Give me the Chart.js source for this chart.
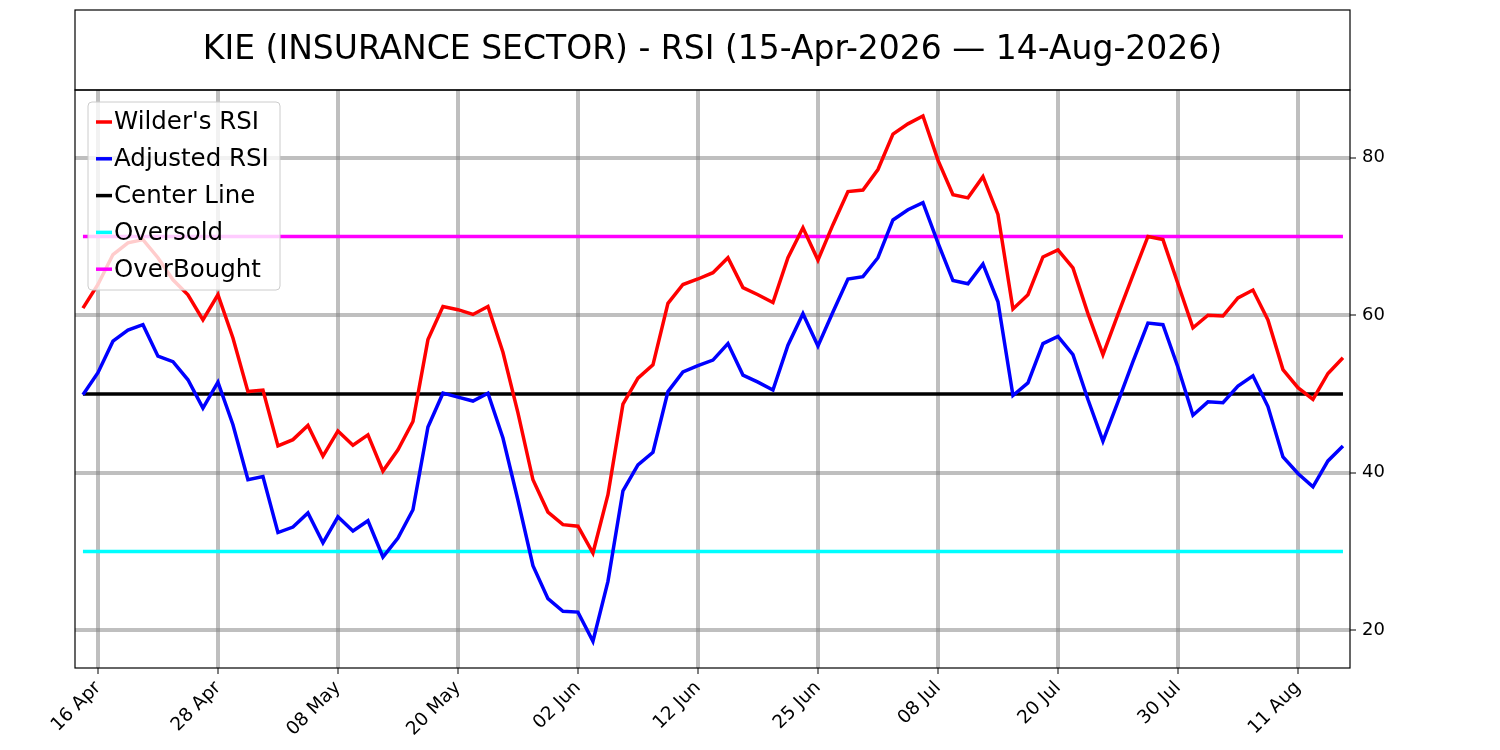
<!DOCTYPE html>
<html>
<head>
<meta charset="utf-8">
<script src="https://cdn.jsdelivr.net/npm/chart.js@4.4.0/dist/chart.umd.min.js"></script>
<style>
  body { margin: 0; background: #fff; }
  #wrap { width: 1500px; height: 750px; }
</style>
</head>
<body>
<div id="wrap"><canvas id="rsiChart" width="1500" height="750"></canvas></div>
<script>
// trading days 15-Apr-2026 .. 14-Aug-2026 (holidays removed), tick every 8th from index 1
const tickLabels = ['16 Apr', '28 Apr', '08 May', '20 May', '02 Jun', '12 Jun', '25 Jun', '08 Jul', '20 Jul', '30 Jul', '11 Aug'];
const tickIndex = [1, 9, 17, 25, 33, 41, 49, 57, 65, 73, 81];

const wilderRsi = [60.9, 63.9, 67.7, 69.2, 69.6, 67.3, 64.5, 62.6, 59.4, 62.6,
    57.1, 50.3, 50.5, 43.4, 44.2, 46.0, 42.1, 45.3, 43.5, 44.8,
    40.2, 42.9, 46.5, 56.9, 61.1, 60.7, 60.1, 61.1, 55.3, 47.6,
    39.1, 35.0, 33.4, 33.2, 29.8, 37.2, 48.7, 52.0, 53.7, 61.5,
    63.9, 64.6, 65.4, 67.3, 63.5, 62.6, 61.6, 67.3, 71.1, 67.0,
    71.5, 75.7, 75.9, 78.5, 83.0, 84.3, 85.3, 79.7, 75.3, 74.9,
    77.6, 72.8, 60.8, 62.6, 67.4, 68.3, 66.0, 60.2, 55.0, 60.1,
    65.1, 70.0, 69.6, 64.0, 58.4, 60.0, 59.9, 62.2, 63.2, 59.4,
    53.1, 50.8, 49.3, 52.6, 54.6];

const adjustedRsi = [49.9, 52.7, 56.7, 58.1, 58.8, 54.8, 54.1, 51.8, 48.2, 51.5,
    46.1, 39.1, 39.5, 32.4, 33.1, 34.9, 31.1, 34.4, 32.6, 33.9,
    29.3, 31.7, 35.3, 45.8, 50.1, 49.6, 49.1, 50.1, 44.4, 36.5,
    28.2, 24.0, 22.4, 22.3, 18.6, 26.2, 37.7, 41.0, 42.6, 50.3,
    52.8, 53.6, 54.3, 56.4, 52.4, 51.5, 50.5, 56.2, 60.2, 56.1,
    60.4, 64.6, 64.9, 67.3, 72.1, 73.4, 74.3, 69.2, 64.4, 64.0,
    66.5, 61.7, 49.8, 51.4, 56.4, 57.3, 55.0, 49.3, 44.0, 49.0,
    54.1, 59.0, 58.8, 53.4, 47.3, 49.0, 48.9, 51.0, 52.3, 48.4,
    42.0, 39.9, 38.2, 41.5, 43.4];

const centerLevel = 50;
const oversoldLevel = 30;
const overboughtLevel = 70;

const toPoints = arr => arr.map((v, i) => ({ x: i, y: v }));
const flat = level => wilderRsi.map((v, i) => ({ x: i, y: level }));

// title box, frame and legend drawn by hand (matplotlib look)
const framePlugin = {
    id: 'frame',
    afterDraw(chart) {
        const c = chart.ctx;
        const a = chart.chartArea;
        c.save();
        c.strokeStyle = '#000';
        c.lineWidth = 1.2;
        c.strokeRect(a.left, 10, a.right - a.left, 80);
        c.strokeRect(a.left, a.top, a.right - a.left, a.bottom - a.top);
        c.fillStyle = '#000';
        c.font = '33px "DejaVu Sans"';
        c.textAlign = 'center';
        c.textBaseline = 'middle';
        c.fillText('KIE (INSURANCE SECTOR) - RSI (15-Apr-2026 \u2014 14-Aug-2026)', (a.left + a.right) / 2, 50);

        // legend
        const x0 = 88, y0 = 102, w = 192, h = 188;
        c.globalAlpha = 0.8;
        c.fillStyle = '#fff';
        c.beginPath();
        c.roundRect(x0, y0, w, h, 4);
        c.fill();
        c.globalAlpha = 1;
        c.strokeStyle = '#ccc';
        c.lineWidth = 1;
        c.stroke();
        c.font = '24.5px "DejaVu Sans"';
        c.textAlign = 'left';
        chart.data.datasets.forEach((ds, i) => {
            const y = 122 + i * 36.8;
            c.strokeStyle = ds.borderColor;
            c.lineWidth = 3.5;
            c.beginPath();
            c.moveTo(96, y);
            c.lineTo(112, y);
            c.stroke();
            c.fillStyle = '#000';
            c.fillText(ds.label, 114, y + 1);
        });
        c.restore();
    }
};

const ctx = document.getElementById('rsiChart').getContext('2d');
new Chart(ctx, {
    type: 'line',
    data: {
        datasets: [
            { label: "Wilder's RSI", data: toPoints(wilderRsi), borderColor: '#ff0000', borderWidth: 3.5, pointRadius: 0 },
            { label: 'Adjusted RSI', data: toPoints(adjustedRsi), borderColor: '#0000ff', borderWidth: 3.5, pointRadius: 0 },
            { label: 'Center Line', data: flat(centerLevel), borderColor: '#000000', borderWidth: 3.5, pointRadius: 0 },
            { label: 'Oversold', data: flat(oversoldLevel), borderColor: '#00ffff', borderWidth: 3.5, pointRadius: 0 },
            { label: 'OverBought', data: flat(overboughtLevel), borderColor: '#ff00ff', borderWidth: 3.5, pointRadius: 0 }
        ]
    },
    options: {
        responsive: false,
        animation: false,
        layout: { padding: { top: 90, left: 75, right: 0, bottom: 0 } },
        plugins: { legend: { display: false }, title: { display: false }, tooltip: { enabled: false } },
        scales: {
            x: {
                type: 'linear',
                min: -0.53,
                max: 84.47,
                afterBuildTicks: axis => { axis.ticks = tickIndex.map(v => ({ value: v })); },
                afterFit: axis => { axis.height = 82; },
                grid: { color: 'rgba(128,128,128,0.5)', lineWidth: 4, tickColor: '#000', tickWidth: 1, tickLength: 6 },
                border: { display: false },
                ticks: {
                    autoSkip: false,
                    maxRotation: 45,
                    minRotation: 45,
                    color: '#000',
                    font: { family: 'DejaVu Sans', size: 18.5 },
                    callback: value => tickLabels[tickIndex.indexOf(value)]
                }
            },
            y: {
                position: 'right',
                min: 15.2,
                max: 88.6,
                afterBuildTicks: axis => { axis.ticks = [20, 40, 60, 80].map(v => ({ value: v })); },
                afterFit: axis => { axis.width = 150; },
                grid: { color: 'rgba(128,128,128,0.5)', lineWidth: 4, tickColor: '#000', tickWidth: 1, tickLength: 6 },
                border: { display: false },
                ticks: { color: '#000', font: { family: 'DejaVu Sans', size: 18 }, padding: 6 }
            }
        }
    },
    plugins: [framePlugin]
});
</script>
</body>
</html>
